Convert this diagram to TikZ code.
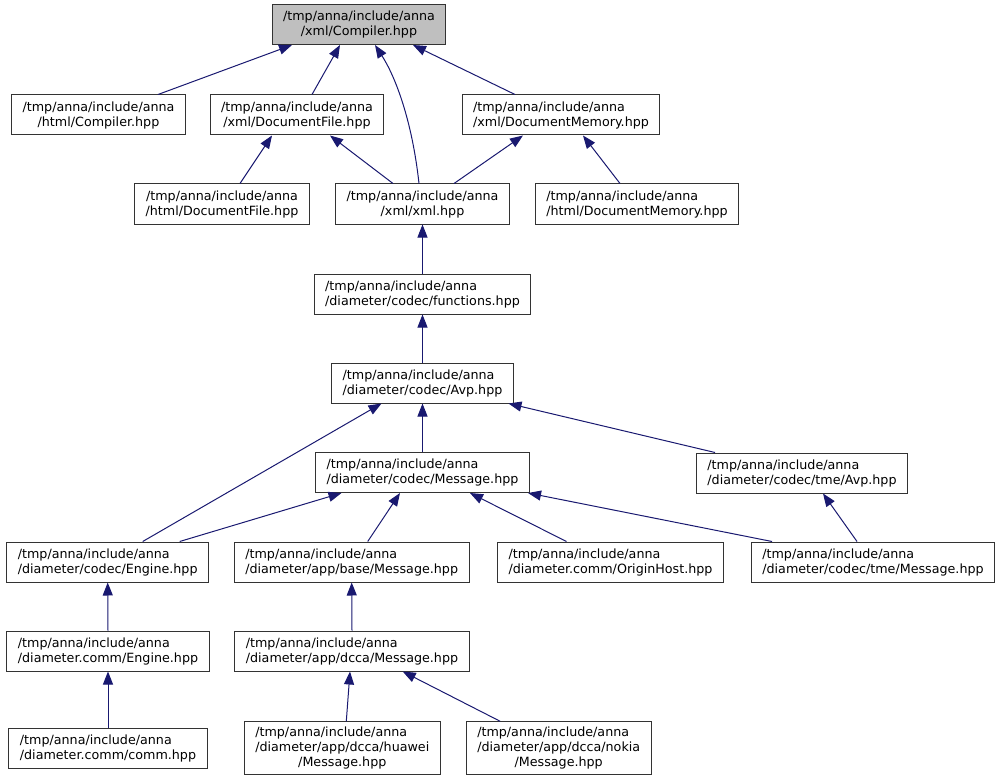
\documentclass[tikz,border=0pt]{standalone}
\usepackage{fontspec}
\setmainfont{DejaVu Sans}
\usepackage{xcolor}
\usepackage{tikz}
\usetikzlibrary{arrows.meta}

\definecolor{edgeblue}{HTML}{191970}
\definecolor{curgray}{HTML}{BFBFBF}

\begin{document}
\begin{tikzpicture}[
    x=1pt, y=-1pt,
    font=\fontsize{12.7}{15}\selectfont,
    file/.style={draw=black!80, fill=white, line width=1pt, align=left,
                 minimum height=40pt, inner xsep=11pt, inner ysep=3pt},
    filec/.style={file, align=center},
    current/.style={filec, fill=curgray},
    edge/.style={-{Triangle[length=13pt,width=10pt]}, draw=edgeblue, line width=1pt}
]
\useasboundingbox (0,0) rectangle (1002,781);

% row 1
\node[current] (cmp) at (359,24.5) {/tmp/anna/include/anna\\/xml/Compiler.hpp};

% row 2
\node[filec] (htmlcmp) at (98.5,115) {/tmp/anna/include/anna\\/html/Compiler.hpp};
\node[filec] (docfile) at (297,115) {/tmp/anna/include/anna\\/xml/DocumentFile.hpp};
\node[file] (docmem) at (561,115) {/tmp/anna/include/anna\\/xml/DocumentMemory.hpp};

% row 3
\node[filec] (htmldocfile) at (222,204) {/tmp/anna/include/anna\\/html/DocumentFile.hpp};
\node[filec] (xmlh) at (422.5,204) {/tmp/anna/include/anna\\/xml/xml.hpp};
\node[file] (htmldocmem) at (637,204) {/tmp/anna/include/anna\\/html/DocumentMemory.hpp};

% codec core
\node[file] (func) at (422.5,294) {/tmp/anna/include/anna\\/diameter/codec/functions.hpp};
\node[file] (avp) at (422.5,383) {/tmp/anna/include/anna\\/diameter/codec/Avp.hpp};
\node[file] (msg) at (422.5,472.5) {/tmp/anna/include/anna\\/diameter/codec/Message.hpp};
\node[file] (tmeavp) at (802,473) {/tmp/anna/include/anna\\/diameter/codec/tme/Avp.hpp};

% row 7
\node[file] (engine) at (107.7,562) {/tmp/anna/include/anna\\/diameter/codec/Engine.hpp};
\node[file] (basemsg) at (351.7,562) {/tmp/anna/include/anna\\/diameter/app/base/Message.hpp};
\node[file] (originhost) at (610.5,562) {/tmp/anna/include/anna\\/diameter.comm/OriginHost.hpp};
\node[file] (tmemsg) at (873,562) {/tmp/anna/include/anna\\/diameter/codec/tme/Message.hpp};

% row 8
\node[file] (commengine) at (108,651) {/tmp/anna/include/anna\\/diameter.comm/Engine.hpp};
\node[file] (dccamsg) at (352,651) {/tmp/anna/include/anna\\/diameter/app/dcca/Message.hpp};

% row 9
\node[file] (comm) at (108,748) {/tmp/anna/include/anna\\/diameter.comm/comm.hpp};
\node[file, minimum height=53pt] (huawei) at (342.3,748.3)
    {\begin{tabular}{@{}l@{}}/tmp/anna/include/anna\\/diameter/app/dcca/huawei\\\multicolumn{1}{@{}c@{}}{/Message.hpp}\end{tabular}};
\node[file, minimum height=53pt] (nokia) at (558.7,748.3)
    {\begin{tabular}{@{}l@{}}/tmp/anna/include/anna\\/diameter/app/dcca/nokia\\\multicolumn{1}{@{}c@{}}{/Message.hpp}\end{tabular}};

% edges
\draw[edge] ([xshift=59.5]htmlcmp.north) -- ([xshift=-67]cmp.south);
\draw[edge] ([xshift=15]docfile.north) -- ([xshift=-19]cmp.south);
\draw[edge] ([xshift=-3.5]xmlh.north) .. controls +(-7,-64) and +(20,31) .. ([xshift=16]cmp.south);
\draw[edge] ([xshift=-46]docmem.north) -- ([xshift=54]cmp.south);
\draw[edge] ([xshift=18]htmldocfile.north) -- ([xshift=-25]docfile.south);
\draw[edge] ([xshift=-29.5]xmlh.north) -- ([xshift=33]docfile.south);
\draw[edge] ([xshift=31.5]xmlh.north) -- ([xshift=-38]docmem.south);
\draw[edge] ([xshift=-17]htmldocmem.north) -- ([xshift=22]docmem.south);
\draw[edge] (func.north) -- (xmlh.south);
\draw[edge] (avp.north) -- (func.south);
\draw[edge] (msg.north) -- (avp.south);
\draw[edge] ([xshift=35]engine.north) -- ([xshift=-41]avp.south);
\draw[edge] ([xshift=-87]tmeavp.north) -- ([xshift=86]avp.south);
\draw[edge] ([xshift=72]engine.north) -- ([xshift=-81]msg.south);
\draw[edge] ([xshift=16]basemsg.north) -- ([xshift=-22.5]msg.south);
\draw[edge] ([xshift=-44]originhost.north) -- ([xshift=47.5]msg.south);
\draw[edge] ([xshift=-101]tmemsg.north) -- ([xshift=105.5]msg.south);
\draw[edge] ([xshift=-16]tmemsg.north) -- ([xshift=21]tmeavp.south);
\draw[edge] (commengine.north) -- (engine.south);
\draw[edge] (comm.north) -- (commengine.south);
\draw[edge] (dccamsg.north) -- (basemsg.south);
\draw[edge] ([xshift=4]huawei.north) -- ([xshift=-2]dccamsg.south);
\draw[edge] ([xshift=-58.5]nokia.north) -- ([xshift=50.7]dccamsg.south);

\end{tikzpicture}
\end{document}
